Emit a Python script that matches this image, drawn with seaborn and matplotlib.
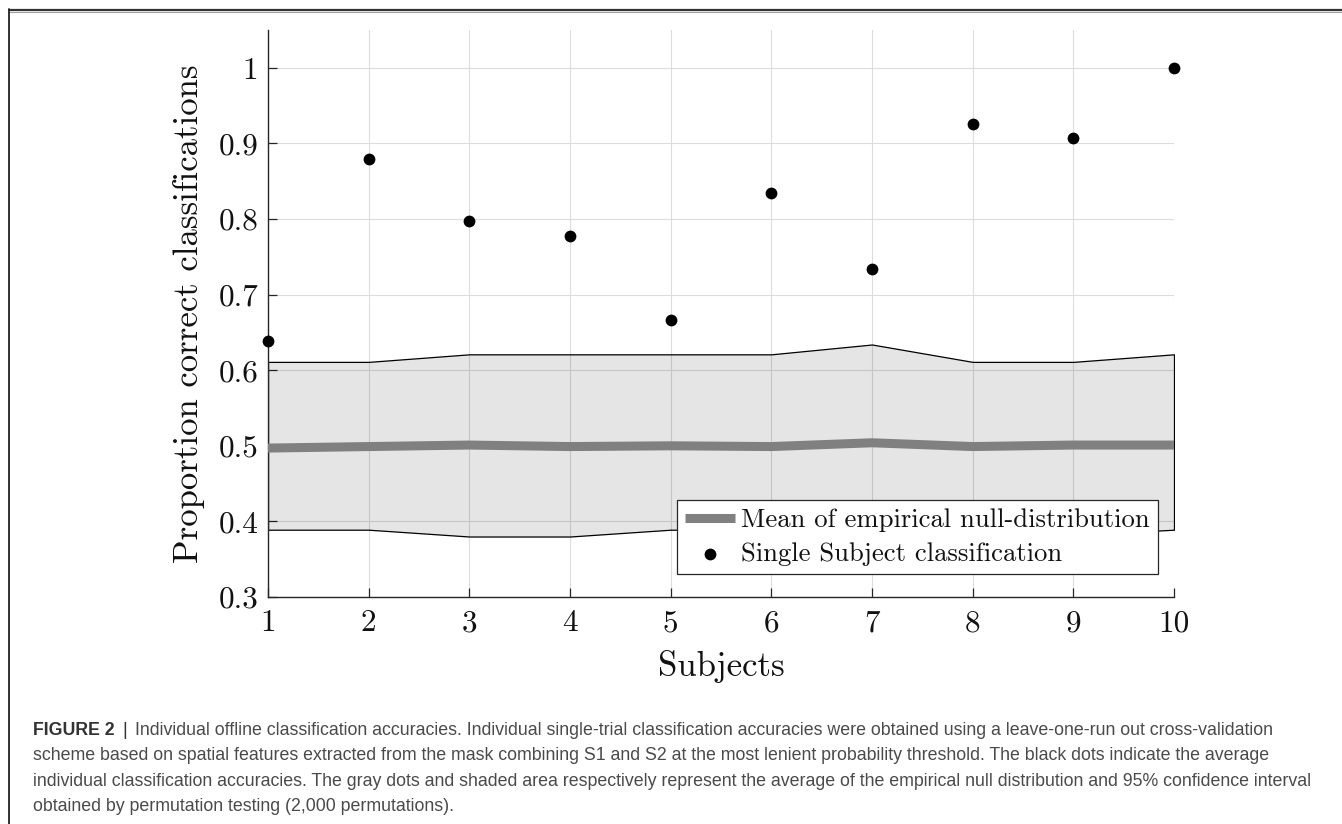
import matplotlib
matplotlib.use("Agg")
import matplotlib.pyplot as plt
import seaborn as sns
import pandas as pd
from matplotlib.lines import Line2D
from matplotlib import font_manager

# ---------------- data ----------------
subjects = [1, 2, 3, 4, 5, 6, 7, 8, 9, 10]
accuracy = [0.638, 0.880, 0.797, 0.778, 0.667, 0.834, 0.734, 0.926, 0.907, 1.000]
null_mean = [0.497, 0.499, 0.501, 0.499, 0.500, 0.499, 0.504, 0.499, 0.501, 0.501]
ci_upper = [0.611, 0.611, 0.621, 0.621, 0.621, 0.621, 0.634, 0.611, 0.611, 0.621]
ci_lower = [0.389, 0.389, 0.380, 0.380, 0.389, 0.389, 0.378, 0.389, 0.382, 0.389]
y_ticks = [0.3, 0.4, 0.5, 0.6, 0.7, 0.8, 0.9, 1.0]
y_tick_labels = ["0.3", "0.4", "0.5", "0.6", "0.7", "0.8", "0.9", "1"]
x_tick_labels = ["1", "2", "3", "4", "5", "6", "7", "8", "9", "10"]
legend_labels = ["Mean of empirical null-distribution", "Single Subject classification"]
x_label = "Subjects"
y_label = "Proportion correct classifications"
caption_head = "FIGURE 2"
caption_lines = [
    "Individual offline classification accuracies. Individual single-trial classification accuracies were obtained using a leave-one-run out cross-validation",
    "scheme based on spatial features extracted from the mask combining S1 and S2 at the most lenient probability threshold. The black dots indicate the average",
    "individual classification accuracies. The gray dots and shaded area respectively represent the average of the empirical null distribution and 95% confidence interval",
    "obtained by permutation testing (2,000 permutations).",
]

df = pd.DataFrame({"subject": subjects, "accuracy": accuracy, "null_mean": null_mean,
                   "lo": ci_lower, "hi": ci_upper})

# ---------------- style ----------------
sns.set_theme(style="white")
plt.rcParams["font.family"] = ["cmr10", "DejaVu Serif"]
plt.rcParams["mathtext.fontset"] = "cm"
plt.rcParams["axes.unicode_minus"] = False

W, H = 1342, 824
fig = plt.figure(figsize=(W / 100, H / 100), dpi=100)
fig.patch.set_facecolor("white")

left_px, right_px, top_px, bottom_px = 268, 1174, 30, 597
ax = fig.add_axes([left_px / W, 1 - bottom_px / H,
                   (right_px - left_px) / W, (bottom_px - top_px) / H])
ax.set_facecolor("white")

# shaded confidence interval
ax.fill_between(df["subject"], df["lo"], df["hi"], facecolor=(0, 0, 0, 0.10),
                edgecolor="black", linewidth=0.9, zorder=1)

sns.lineplot(data=df, x="subject", y="null_mean", color="#808080", linewidth=6.5,
             solid_capstyle="butt", label=legend_labels[0], ax=ax, zorder=3)
sns.scatterplot(data=df, x="subject", y="accuracy", color="black", s=72,
                linewidth=0, label=legend_labels[1], ax=ax, zorder=4, clip_on=False)

ax.set_xlim(1, 10)
ax.set_ylim(0.3, 1.05)
ax.set_xticks(subjects)
ax.set_xticklabels(x_tick_labels)
ax.set_yticks(y_ticks)
ax.set_yticklabels(y_tick_labels)

ax.grid(True, color="#dcdcdc", linewidth=0.8)
ax.set_axisbelow(True)
for s in ["top", "right"]:
    ax.spines[s].set_visible(False)
for s in ["left", "bottom"]:
    ax.spines[s].set_color("#262626")
    ax.spines[s].set_linewidth(1.0)

ax.tick_params(axis="both", direction="in", length=6.5, width=0.9, color="#262626",
               labelcolor="#111111", labelsize=22.5)
ax.tick_params(axis="y", pad=7, left=True)
ax.tick_params(axis="x", pad=9, bottom=True)

ax.set_xlabel(x_label, fontsize=25, labelpad=9, color="#111111")
ax.set_ylabel(y_label, fontsize=25, labelpad=10, color="#111111")

leg = ax.legend(loc="lower right", bbox_to_anchor=(0.9823, 0.0406), borderaxespad=0,
                fontsize=19.2, frameon=True, fancybox=False, framealpha=1,
                edgecolor="#262626", handlelength=1.85, handletextpad=0.25,
                borderpad=0.3, labelspacing=0.38, scatterpoints=1)
leg.get_frame().set_linewidth(0.9)
for t in leg.get_texts():
    t.set_color("#111111")

# ---------------- outer frame ----------------
fig.add_artist(Line2D([9 / W, 1], [1 - 9.5 / H, 1 - 9.5 / H], color="#333333",
                      linewidth=1.6, transform=fig.transFigure))
fig.add_artist(Line2D([9 / W, 1], [1 - 11.5 / H, 1 - 11.5 / H], color="#a0a0a0",
                      linewidth=0.8, transform=fig.transFigure))
fig.add_artist(Line2D([9 / W, 9 / W], [0, 1 - 9 / H], color="#222222",
                      linewidth=1.3, transform=fig.transFigure))

# ---------------- caption ----------------
def has_font(name):
    try:
        font_manager.findfont(name, fallback_to_default=False)
        return True
    except Exception:
        return False

cap_font = "Liberation Sans Narrow" if has_font("Liberation Sans Narrow") else "Liberation Sans"
cap_color = "#4a4a4a"
renderer = fig.canvas.get_renderer()
probe = fig.text(0, 0, caption_lines[2], fontsize=10, family=cap_font)
pw = probe.get_window_extent(renderer).width
probe.remove()
cap_size = 10 * (1318 - 33) / pw

baselines = [735, 760, 786, 811]
x0 = 33
head = fig.text(x0 / W, 1 - baselines[0] / H, caption_head, fontsize=cap_size,
                family=cap_font, weight="bold", color="#333333", va="baseline")
hw = head.get_window_extent(renderer).width
bar = fig.text((x0 + hw + 8) / W, 1 - baselines[0] / H, "|", fontsize=cap_size,
               family=cap_font, color="#333333", va="baseline")
bw = bar.get_window_extent(renderer).width
first_x = x0 + hw + 8 + bw + 8
fig.text(first_x / W, 1 - baselines[0] / H, caption_lines[0], fontsize=cap_size,
         family=cap_font, color=cap_color, va="baseline")
for line, b in zip(caption_lines[1:], baselines[1:]):
    fig.text(x0 / W, 1 - b / H, line, fontsize=cap_size, family=cap_font,
             color=cap_color, va="baseline")

fig.savefig("out.png", dpi=100, facecolor="white")
